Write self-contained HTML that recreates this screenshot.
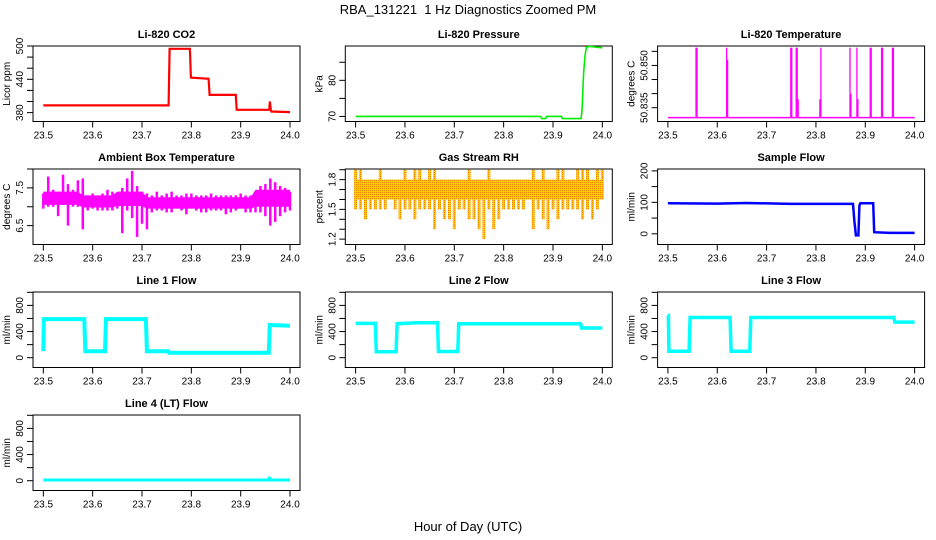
<!DOCTYPE html>
<html><head><meta charset="utf-8"><style>
html,body{margin:0;padding:0;background:#fff;}
svg{display:block;font-family:"Liberation Sans",sans-serif;}
</style></head><body>
<svg id="chart" width="936" height="540" viewBox="0 0 936 540" xmlns="http://www.w3.org/2000/svg">
<defs>
<pattern id="rhpat" width="2" height="2" patternUnits="userSpaceOnUse">
<rect width="2" height="2" fill="#ffcc00"/><rect width="1" height="1" fill="#f08000"/>
</pattern>
</defs>
<text x="468" y="14" font-size="13" text-anchor="middle" xml:space="preserve">RBA_131221  1 Hz Diagnostics Zoomed PM</text>
<text x="468" y="531" font-size="13" text-anchor="middle">Hour of Day (UTC)</text>
</svg>
<script>
const xTicks=[23.5,23.6,23.7,23.8,23.9,24.0];
const xTickLabels=["23.5","23.6","23.7","23.8","23.9","24.0"];
const co2X=[23.5,23.754,23.756,23.797,23.799,23.835,23.837,23.890,23.892,23.958,23.959,23.961,23.962,24.0];
const co2Y=[393,393,495,495,443,441,412,412,385,385,400,385,382,381];
const presX=[23.5,23.875,23.877,23.885,23.887,23.917,23.919,23.957,23.959,23.962,23.965,23.968,23.975,24.0];
const presY=[70,70,69.4,69.4,70,70,69.4,69.4,72,82,87,89.2,89.4,89];
const tempBase=50.8315;
const tempSpikeX=[23.557,23.559,23.619,23.621,23.749,23.751,23.760,23.762,23.764,23.808,23.810,23.869,23.871,23.883,23.885,23.910,23.912,23.933,23.935,23.955,23.957];
const tempSpikeY=[50.8563,50.8563,50.8563,50.852,50.8563,50.8563,50.8563,50.8563,50.838,50.838,50.8563,50.8563,50.840,50.8563,50.838,50.8563,50.8563,50.8563,50.8563,50.8563,50.8563];
const ambHi=[7.35,7.8,7.45,7.4,7.85,7.6,7.45,7.7,7.75,7.3,7.35,7.3,7.35,7.45,7.4,7.3,7.5,7.75,7.95,7.55,7.4,7.35,7.3,7.4,7.3,7.35,7.4,7.3,7.3,7.35,7.35,7.3,7.3,7.3,7.35,7.3,7.3,7.3,7.3,7.3,7.35,7.3,7.3,7.3,7.55,7.6,7.75,7.65,7.55,7.5,7.4];
const ambLo=[6.95,7.0,7.0,6.75,7.05,6.5,7.0,7.0,6.4,6.9,6.95,6.9,6.9,6.9,6.9,6.95,6.3,6.9,6.7,6.2,6.55,6.4,6.85,6.9,6.9,6.85,6.85,6.95,6.9,6.8,6.95,6.9,6.85,6.85,6.9,6.9,6.9,6.8,6.85,6.9,6.95,6.85,6.85,6.85,6.85,6.75,6.5,6.6,6.75,6.85,6.9];
const ambCoreLo=[7.05,7.05,7.05,7.05,7.05,7.05,7.05,7.05,6.98,6.98,6.98,6.98,6.98,6.98,6.98,7.02,7.02,7.02,7.02,7.02,7.02,6.95,6.95,6.95,6.95,6.95,6.95,6.95,6.95,6.95,6.95,6.95,6.95,6.95,6.95,6.95,6.95,6.95,6.95,6.95,6.95,6.95,6.95,7.0,7.0,7.0,7.0,7.0,7.0,7.0,7.0];
const ambCoreHi=[7.4,7.4,7.4,7.4,7.4,7.4,7.4,7.4,7.3,7.3,7.3,7.3,7.3,7.3,7.3,7.4,7.4,7.4,7.4,7.4,7.4,7.25,7.25,7.25,7.25,7.25,7.25,7.25,7.25,7.25,7.25,7.25,7.25,7.25,7.25,7.25,7.25,7.25,7.25,7.25,7.25,7.25,7.25,7.45,7.45,7.45,7.45,7.45,7.45,7.45,7.45];
const rhHi=[1.9,1.9,1.8,1.8,1.8,1.9,1.8,1.8,1.8,1.8,1.9,1.8,1.9,1.9,1.8,1.9,1.9,1.8,1.8,1.8,1.8,1.8,1.8,1.9,1.8,1.8,1.8,1.9,1.8,1.8,1.8,1.8,1.8,1.8,1.8,1.8,1.9,1.8,1.9,1.8,1.8,1.9,1.9,1.8,1.8,1.9,1.9,1.9,1.8,1.9,1.9];
const rhLo=[1.5,1.5,1.4,1.5,1.5,1.5,1.5,1.6,1.5,1.4,1.5,1.5,1.4,1.5,1.5,1.5,1.3,1.5,1.4,1.4,1.3,1.5,1.5,1.4,1.4,1.3,1.2,1.5,1.3,1.4,1.5,1.5,1.5,1.5,1.5,1.6,1.3,1.5,1.4,1.3,1.5,1.4,1.5,1.5,1.5,1.5,1.4,1.5,1.4,1.5,1.6];
const rhCore=[1.6,1.8];
const sampX=[23.5,23.6,23.66,23.75,23.875,23.878,23.881,23.886,23.888,23.89,23.916,23.918,23.95,24.0];
const sampY=[97,96,98,95,95,40,-5,-5,90,97,97,5,3,3];
const l1X=[23.5,23.501,23.583,23.585,23.625,23.627,23.708,23.710,23.753,23.755,23.957,23.959,24.0];
const l1Y=[100,590,590,98,98,590,590,100,100,75,75,500,490];
const l2X=[23.5,23.540,23.542,23.582,23.584,23.624,23.666,23.668,23.707,23.709,23.956,23.958,24.0];
const l2Y=[525,525,90,90,520,535,535,95,95,520,520,455,455];
const l3X=[23.5,23.501,23.502,23.543,23.545,23.626,23.628,23.666,23.668,23.958,23.960,24.0];
const l3Y=[650,650,100,100,615,615,100,100,615,615,545,545];
const l4X=[23.5,23.957,23.958,23.959,23.961,24.0];
const l4Y=[10,10,60,10,10,10];

const svg=document.getElementById('chart');
const NS='http://www.w3.org/2000/svg';
function mk(tag,attrs,parent){const e=document.createElementNS(NS,tag);for(const k in attrs)e.setAttribute(k,attrs[k]);(parent||svg).appendChild(e);return e;}
const XMIN=23.4791,XMAX=24.0202,W=267,H=75.5;
function panel(col,row,name,title,ylab,ymin,ymax,ticks,labels,dec){
  const left=33+col*312.3, top=46+row*123;
  const g=mk('g',{});
  
  
  const sx=v=>left+(v-XMIN)/(XMAX-XMIN)*W;
  const sy=v=>top+H-(v-ymin)/(ymax-ymin)*H;
  const t=mk('text',{x:left+W/2,y:top-8,'font-size':11,'font-weight':'bold','text-anchor':'middle'},g);
  t.textContent=title;
  
  
  const box=mk('rect',{x:left,y:top,width:W,height:H,fill:'none',stroke:'#000','stroke-width':1},g);
  
  
  xTicks.forEach((v,i)=>{
    mk('line',{x1:sx(v),x2:sx(v),y1:top+H,y2:top+H+6,stroke:'#000'},g);
    const l=mk('text',{x:sx(v),y:top+H+17,'font-size':10,'text-anchor':'middle'},g);
    l.textContent=xTickLabels[i];
    
    
  });
  ticks.forEach(v=>{
    mk('line',{x1:left-6,x2:left,y1:sy(v),y2:sy(v),stroke:'#000'},g);
    if(labels.indexOf(v)>=0){
      const l=mk('text',{x:0,y:0,'font-size':10,'text-anchor':'middle',transform:`translate(${left-10},${sy(v)}) rotate(-90)`},g);
      l.textContent=dec?v.toFixed(dec):String(v);
      
      
    }
  });
  const yl=mk('text',{x:0,y:0,'font-size':10,'text-anchor':'middle',transform:`translate(${left-23},${top+H/2}) rotate(-90)`},g);
  yl.textContent=ylab;
  
  
  return {g,sx,sy};
}
function line(p,xs,ys,color,w,name){
  const pts=xs.map((x,i)=>p.sx(x).toFixed(1)+','+p.sy(ys[i]).toFixed(1)).join(' ');
  const l=mk('polyline',{points:pts,fill:'none',stroke:color,'stroke-width':w,'stroke-linejoin':'miter'},p.g);
  
  
}
const idxX=i=>23.5+i*0.01;

let p=panel(0,0,'co2','Li-820 CO2','Licor ppm',364,500,[380,400,420,440,460,480,500],[380,440,500]);
line(p,co2X,co2Y,'#ff0000',2.2,'co2-line');

p=panel(1,0,'pressure','Li-820 Pressure','kPa',68.6,89.5,[70,75,80,85],[70,80]);
line(p,presX,presY,'#00ee00',1.6,'pressure-line');

p=panel(2,0,'li820-temp','Li-820 Temperature','degrees C',50.8301,50.8569,[50.835,50.84,50.845,50.85,50.855],[50.835,50.85],3);
line(p,[23.5,24.0],[tempBase,tempBase],'#ff00ff',1.5,'temp-baseline');
tempSpikeX.forEach((x,i)=>{
  const s=mk('line',{x1:p.sx(x),x2:p.sx(x),y1:p.sy(tempBase),y2:p.sy(tempSpikeY[i]),stroke:'#ff00ff','stroke-width':1.3},p.g);
  
  
});

p=panel(0,1,'ambient-temp','Ambient Box Temperature','degrees C',6.0,8.0,[6.5,7.0,7.5,8.0],[6.5,7.5]);
{
  const top=ambCoreHi.map((v,i)=>p.sx(idxX(i)).toFixed(1)+','+p.sy(v).toFixed(1));
  const bot=ambCoreLo.map((v,i)=>p.sx(idxX(i)).toFixed(1)+','+p.sy(v).toFixed(1)).reverse();
  const band=mk('polygon',{points:top.concat(bot).join(' '),fill:'#ff00ff'},p.g);
  
  
  ambHi.forEach((v,i)=>{
    const s=mk('line',{x1:p.sx(idxX(i)),x2:p.sx(idxX(i)),y1:p.sy(ambLo[i]),y2:p.sy(v),stroke:'#ff00ff','stroke-width':2.5},p.g);
    
    
  });
}

p=panel(1,1,'gas-rh','Gas Stream RH','percent',1.146,1.907,[1.2,1.3,1.4,1.5,1.6,1.7,1.8,1.9],[1.2,1.5,1.8]);
{
  const band=mk('rect',{x:p.sx(23.5),y:p.sy(rhCore[1]),width:p.sx(24.0)-p.sx(23.5),height:p.sy(rhCore[0])-p.sy(rhCore[1]),fill:'url(#rhpat)'},p.g);
  
  
  rhHi.forEach((v,i)=>{
    const r=mk('rect',{x:p.sx(idxX(i))-1.5,y:p.sy(v),width:3,height:p.sy(rhLo[i])-p.sy(v),fill:'url(#rhpat)'},p.g);
    
    
  });
}

p=panel(2,1,'sample-flow','Sample Flow','ml/min',-34,206,[0,50,100,150,200],[0,100,200]);
line(p,sampX,sampY,'#0000ff',2.5,'sample-flow-line');

const flowTicks=[0,200,400,600,800,1000],flowLabels=[0,400,800];
p=panel(0,2,'line1-flow','Line 1 Flow','ml/min',-150,1005,flowTicks,flowLabels);
line(p,l1X,l1Y,'#00ffff',4,'line1-flow-line');
p=panel(1,2,'line2-flow','Line 2 Flow','ml/min',-150,1005,flowTicks,flowLabels);
line(p,l2X,l2Y,'#00ffff',3.5,'line2-flow-line');
p=panel(2,2,'line3-flow','Line 3 Flow','ml/min',-150,1005,flowTicks,flowLabels);
line(p,l3X,l3Y,'#00ffff',3.5,'line3-flow-line');
p=panel(0,3,'line4-flow','Line 4 (LT) Flow','ml/min',-150,1005,flowTicks,flowLabels);
line(p,l4X,l4Y,'#00ffff',3,'line4-flow-line');
</script>
</body></html>
